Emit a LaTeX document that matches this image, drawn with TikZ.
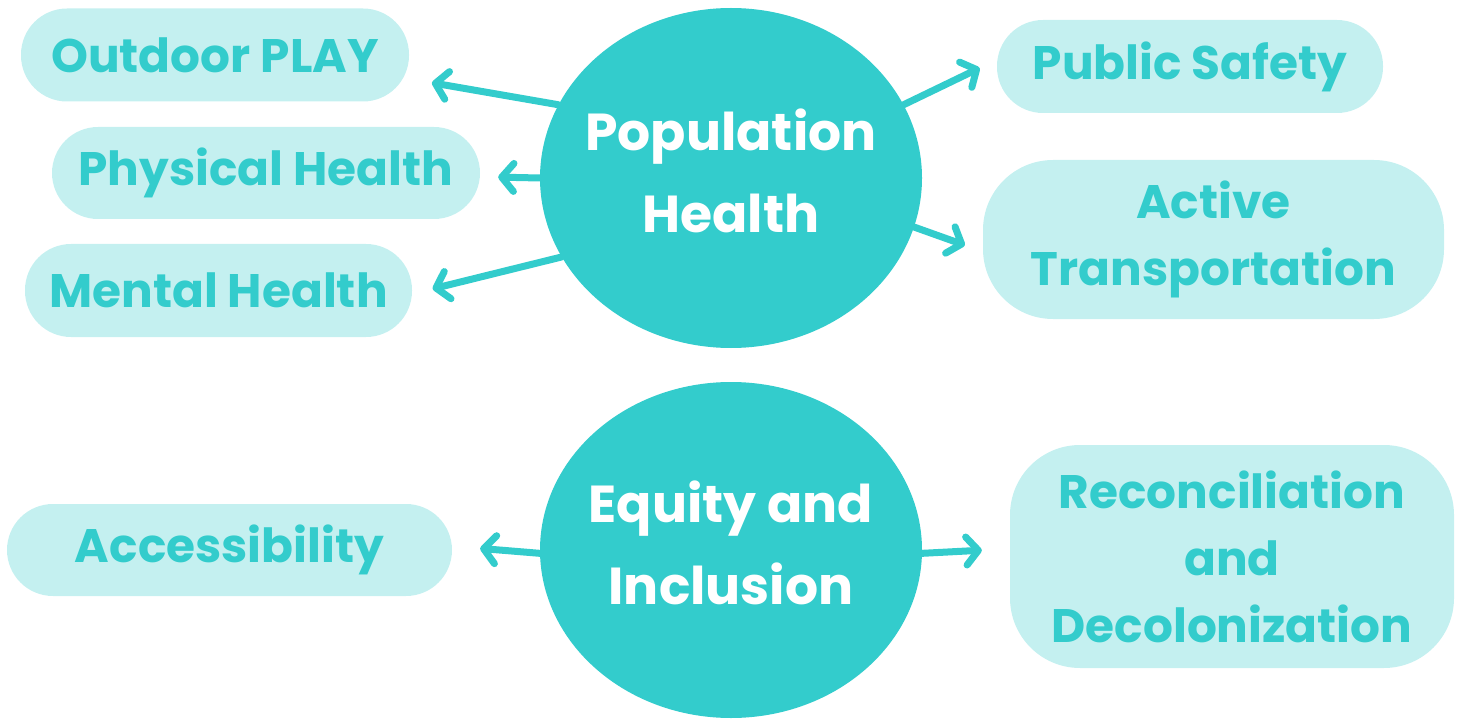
\documentclass[tikz,border=0pt]{standalone}
\usepackage{fontspec}
\setmainfont{Poppins}
\usetikzlibrary{arrows.meta,shapes.geometric}
\definecolor{hubteal}{RGB}{51,204,204}
\definecolor{paleteal}{RGB}{196,240,240}

\begin{document}
\begin{tikzpicture}[x=1pt,y=-1pt,
  hub/.style={ellipse,fill=hubteal,text=white,inner sep=-30pt,align=center,
    text depth=14pt,font=\fontsize{52}{82}\selectfont\bfseries},
  pill/.style={fill=paleteal,text=hubteal,inner sep=0pt,align=center,
    font=\fontsize{47}{67}\selectfont\bfseries},
  link/.style={draw=hubteal,line width=7pt,line cap=round,
    -{Straight Barb[length=12pt,width=28pt,round]}}]
\useasboundingbox (0,0) rectangle (1461,719);
% two central topics
\node[hub,minimum width=382pt,minimum height=340pt] (pop) at (731,178) {Population\\Health};
\node[hub,minimum width=382pt,minimum height=336pt] (equity) at (731,550) {Equity and\\Inclusion};
% outcomes around them
\node[pill,rounded corners=46pt,minimum width=388pt,minimum height=93pt] (play) at (215,55) {Outdoor PLAY};
\node[pill,rounded corners=46pt,minimum width=428pt,minimum height=92pt] (physical) at (266,173) {Physical Health};
\node[pill,rounded corners=46pt,minimum width=387pt,minimum height=93pt] (mental) at (218.5,290.5) {Mental Health};
\node[pill,rounded corners=46pt,minimum width=386pt,minimum height=93pt] (safety) at (1190,66.5) {Public Safety};
\node[pill,rounded corners=70pt,minimum width=461pt,minimum height=159pt] (active) at (1213.5,239.5) {Active\\Transportation};
\node[pill,rounded corners=46pt,minimum width=445pt,minimum height=92pt] (access) at (229.5,550) {Accessibility};
\node[pill,rounded corners=70pt,minimum width=444pt,minimum height=223pt] (recon) at (1232,556.5) {Reconciliation\\and\\Decolonization};
% arrows out of the topics
\draw[link,shorten >=23pt] (pop.157) -- (play.-7);
\draw[link,shorten >=18pt] (pop.180) -- (physical.-1);
\draw[link,shorten >=21pt] (pop.205) -- (mental.-1.4);
\draw[link,shorten >=19pt] (pop.23) -- (safety.178.7);
\draw[link,shorten >=19pt] (pop.-15.4) -- (active.183.1);
\draw[link,shorten >=28pt] (equity.181) -- (access.1);
\draw[link,shorten >=28pt] (equity.359) -- (recon.178.7);
\end{tikzpicture}
\end{document}
